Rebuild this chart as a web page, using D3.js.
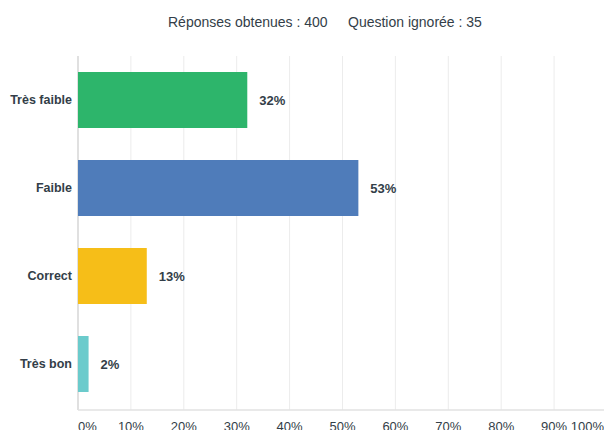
<!DOCTYPE html>
<html>
<head>
	<meta charset="utf-8">
	<title>Réponses</title>
	<script src="https://d3js.org/d3.v7.min.js"></script>
	<style>
		body { margin: 0; background: #fff; }
		svg { display: block; font-family: "Liberation Sans", Arial, sans-serif; }
	</style>
</head>
<body>
	<svg id="chart" width="604" height="430"></svg>
	<script>
		// data
		var categories = ["Très faible", "Faible", "Correct", "Très bon"]
		var percents = [32, 53, 13, 2]
		var colors = ["#2db56b", "#4f7cba", "#f6be18", "#6bcbcc"]
		var ticks = [0, 10, 20, 30, 40, 50, 60, 70, 80, 90, 100]
		var answered = 400
		var skipped = 35

		var svg = d3.select("#chart")
		var textColor = "#333e48"

		// header line
		svg.append("text")
			.attr("x", 168).attr("y", 27)
			.attr("font-size", 14).attr("fill", textColor)
			.text("Réponses obtenues : " + answered)
		svg.append("text")
			.attr("x", 348).attr("y", 27)
			.attr("font-size", 14).attr("fill", textColor)
			.text("Question ignorée : " + skipped)

		var x = d3.scaleLinear().domain([0, 100]).range([78, 607])
		var y = d3.scaleBand().domain(categories).range([56, 408]).paddingInner(0.3636).paddingOuter(0.1818)

		// grid
		svg.append("g").selectAll("line")
			.data(ticks.slice(1))
			.enter().append("line")
			.attr("x1", d => x(d)).attr("x2", d => x(d))
			.attr("y1", 56).attr("y2", 410)
			.attr("stroke", "#ececec").attr("stroke-width", 1)

		// axis lines
		svg.append("line").attr("x1", x(0)).attr("x2", x(0)).attr("y1", 56).attr("y2", 410)
			.attr("stroke", "#d6d6d6").attr("stroke-width", 1.5)
		svg.append("line").attr("x1", x(0)).attr("x2", 604).attr("y1", 410).attr("y2", 410)
			.attr("stroke", "#e2e2e2").attr("stroke-width", 1.5)

		// tick labels (cut by the bottom edge, as in the original)
		svg.append("g").selectAll("text")
			.data(ticks)
			.enter().append("text")
			.attr("x", d => d == 0 ? x(0) : (d == 100 ? 604 : x(d)))
			.attr("y", 431)
			.attr("text-anchor", d => d == 0 ? "start" : (d == 100 ? "end" : "middle"))
			.attr("font-size", 13).attr("fill", textColor)
			.text(d => d + "%")

		// bars
		svg.append("g").selectAll("rect")
			.data(categories)
			.enter().append("rect")
			.attr("x", x(0))
			.attr("y", d => y(d))
			.attr("width", (d, i) => x(percents[i]) - x(0))
			.attr("height", y.bandwidth())
			.attr("fill", (d, i) => colors[i])

		// value labels
		svg.append("g").selectAll("text")
			.data(categories)
			.enter().append("text")
			.attr("x", (d, i) => x(percents[i]) + 12)
			.attr("y", d => y(d) + y.bandwidth() / 2)
			.attr("dy", "0.35em")
			.attr("font-size", 13).attr("font-weight", "bold").attr("fill", textColor)
			.text((d, i) => percents[i] + "%")

		// category labels
		svg.append("g").selectAll("text")
			.data(categories)
			.enter().append("text")
			.attr("x", 72)
			.attr("y", d => y(d) + y.bandwidth() / 2)
			.attr("dy", "0.35em")
			.attr("text-anchor", "end")
			.attr("font-size", 12.5).attr("font-weight", "bold").attr("fill", textColor)
			.text(d => d)
	</script>
</body>
</html>
